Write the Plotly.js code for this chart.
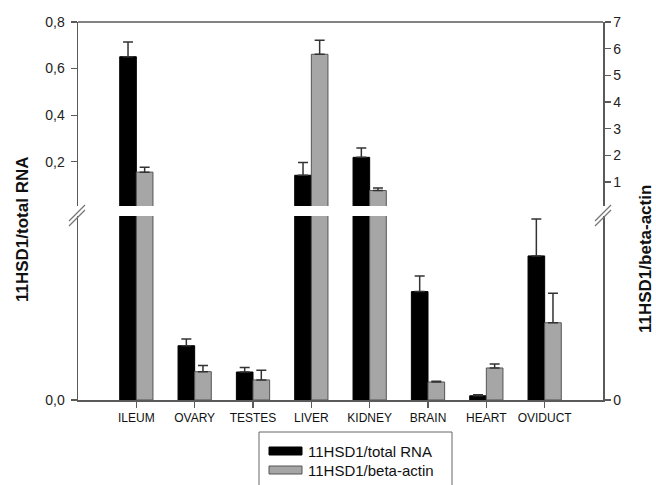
<!DOCTYPE html>
<html>
<head>
<meta charset="utf-8">
<script src="https://cdn.plot.ly/plotly-3.0.1.min.js"></script>
<style>html,body{margin:0;padding:0;background:#fff;}#chart{width:656px;height:485px;}</style>
</head>
<body>
<div id="chart"></div>
<script>
// Data (broken axes: lower and upper segments)
const categories = ['ILEUM','OVARY','TESTES','LIVER','KIDNEY','BRAIN','HEART','OVIDUCT'];
const totalRNA    = [0.651, 0.00059, 0.000304, 0.142, 0.219, 0.001178, 0.000046, 0.001566];
const totalRNAErr = [0.063, 0.000074, 0.000048, 0.055, 0.040, 0.00017, 0.00001, 0.0004];
const betaActin    = [1.37, 0.00308, 0.00218, 5.79, 0.68, 0.00196, 0.00348, 0.0084];
const betaActinErr = [0.18, 0.00066, 0.00104, 0.53, 0.10, 0.00008, 0.00044, 0.0032];
const seriesNames = ['11HSD1/total RNA', '11HSD1/beta-actin'];
const leftTicksLower = [0];
const leftTicksUpper = [0.2, 0.4, 0.6, 0.8];
const rightTicksLower = [0];
const rightTicksUpper = [1, 2, 3, 4, 5, 6, 7];

const BW = 0.285;
const axisCol = '#5a5a5a';
const blackFill = '#000000';
const greyFill = '#a6a6a6';
const FONT = 'Liberation Sans, Arial, sans-serif';

function err(arr) {
  return {type: 'data', symmetric: false, array: arr, arrayminus: arr.map(() => 0),
          color: '#333', thickness: 1.5, width: 5};
}
function barTrace(vals, errs, yaxis, fill, line, offset, name) {
  return {
    type: 'bar', x: categories, y: vals, yaxis: yaxis, xaxis: 'x', name: name,
    width: BW, offset: offset,
    marker: {color: fill, line: {color: line, width: 1}},
    error_y: err(errs), showlegend: false, hoverinfo: 'skip'
  };
}

const traces = [
  barTrace(totalRNA, totalRNAErr, 'y', blackFill, '#000', -BW, seriesNames[0]),
  barTrace(betaActin, betaActinErr, 'y2', greyFill, '#555', 0, seriesNames[1]),
  barTrace(totalRNA, totalRNAErr, 'y3', blackFill, '#000', -BW, seriesNames[0]),
  barTrace(betaActin, betaActinErr, 'y4', greyFill, '#555', 0, seriesNames[1])
];

const W = 525, H = 378, L = 78, T = 22;
const px = x => (x - L) / W;
const py = y => (T + H - y) / H;

const yCommon = {
  showgrid: false, zeroline: false, showline: true, linecolor: axisCol, linewidth: 1.5,
  ticks: 'outside', ticklen: 6, tickcolor: axisCol, tickwidth: 1.2,
  tickfont: {family: FONT, size: 14, color: '#222'},
  fixedrange: true
};

const lowerDom = [0, 0.4868];
const upperDom = [0.5132, 1];

const layout = {
  width: 656, height: 485,
  margin: {l: L, r: 656 - L - W, t: T, b: 485 - T - H},
  paper_bgcolor: '#fff', plot_bgcolor: '#fff',
  separators: ',.',
  barmode: 'overlay',
  showlegend: false,
  xaxis: {
    type: 'category', range: [-1, 8], anchor: 'y',
    showgrid: false, zeroline: false, showline: true, linecolor: axisCol, linewidth: 1.5,
    ticks: 'outside', ticklen: 6, tickcolor: axisCol, tickwidth: 1.2,
    tickfont: {family: FONT, size: 12, color: '#111'},
    fixedrange: true
  },
  yaxis: Object.assign({}, yCommon, {domain: lowerDom, range: [0, 0.002], anchor: 'x',
    tickvals: leftTicksLower, tickformat: '.1f', ticklabelstandoff: 3}),
  yaxis2: Object.assign({}, yCommon, {domain: lowerDom, range: [0, 0.02], anchor: 'x',
    overlaying: 'y', side: 'right', tickvals: rightTicksLower, tickformat: 'd'}),
  yaxis3: Object.assign({}, yCommon, {domain: upperDom, range: [0.01, 0.8], anchor: 'x',
    tickvals: leftTicksUpper, tickformat: '.1f', ticklabelstandoff: 3}),
  yaxis4: Object.assign({}, yCommon, {domain: upperDom, range: [0.1, 7], anchor: 'x',
    overlaying: 'y3', side: 'right', tickvals: rightTicksUpper, tickformat: 'd'}),
  shapes: [
    // top frame line
    {type: 'line', xref: 'paper', yref: 'paper', x0: 0, x1: 1, y0: 1, y1: 1,
     line: {color: axisCol, width: 1.5}},
    // break marks left
    {type: 'line', xref: 'paper', yref: 'paper', x0: px(69), x1: px(85), y0: py(221), y1: py(205),
     line: {color: '#777', width: 1.2}},
    {type: 'line', xref: 'paper', yref: 'paper', x0: px(69), x1: px(85), y0: py(226), y1: py(210),
     line: {color: '#777', width: 1.2}},
    // break marks right
    {type: 'line', xref: 'paper', yref: 'paper', x0: px(595), x1: px(611), y0: py(221), y1: py(205),
     line: {color: '#777', width: 1.2}},
    {type: 'line', xref: 'paper', yref: 'paper', x0: px(595), x1: px(611), y0: py(226), y1: py(210),
     line: {color: '#777', width: 1.2}},
    // legend box
    {type: 'rect', xref: 'paper', yref: 'paper', x0: px(259), x1: px(452), y0: py(432), y1: py(495),
     line: {color: '#666', width: 1}, fillcolor: 'rgba(0,0,0,0)'},
    {type: 'rect', xref: 'paper', yref: 'paper', x0: px(269), x1: px(302), y0: py(447), y1: py(455),
     line: {color: '#000', width: 1}, fillcolor: blackFill},
    {type: 'rect', xref: 'paper', yref: 'paper', x0: px(269), x1: px(302), y0: py(466), y1: py(474),
     line: {color: '#555', width: 1}, fillcolor: greyFill}
  ],
  annotations: [
    {text: '<b>11HSD1/total RNA</b>', xref: 'paper', yref: 'paper', x: px(22), y: py(229),
     textangle: -90, showarrow: false, xanchor: 'center', yanchor: 'middle',
     font: {family: FONT, size: 17, color: '#111'}},
    {text: '<b>11HSD1/beta-actin</b>', xref: 'paper', yref: 'paper', x: px(645), y: py(259),
     textangle: -90, showarrow: false, xanchor: 'center', yanchor: 'middle',
     font: {family: FONT, size: 17, color: '#111'}},
    {text: seriesNames[0], xref: 'paper', yref: 'paper', x: px(306), y: py(451),
     showarrow: false, xanchor: 'left', yanchor: 'middle',
     font: {family: FONT, size: 15, color: '#111'}},
    {text: seriesNames[1], xref: 'paper', yref: 'paper', x: px(306), y: py(470),
     showarrow: false, xanchor: 'left', yanchor: 'middle',
     font: {family: FONT, size: 15, color: '#111'}}
  ]
};

Plotly.newPlot('chart', traces, layout, {staticPlot: true, displayModeBar: false});
</script>
</body>
</html>
